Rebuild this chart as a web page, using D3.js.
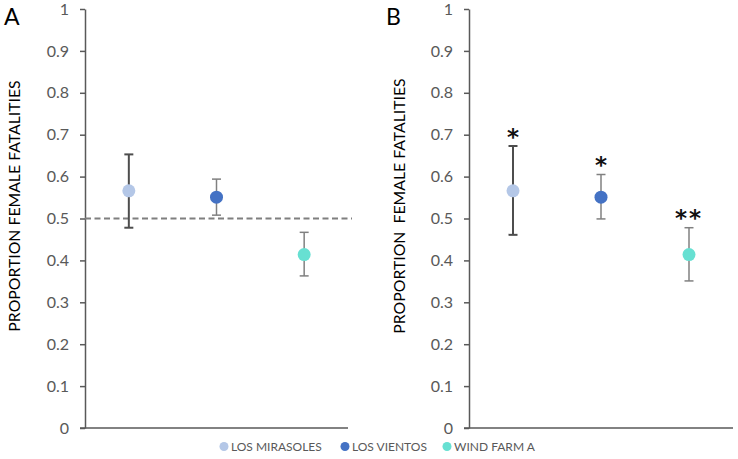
<!DOCTYPE html>
<html><head><meta charset="utf-8">
<script src="https://cdn.jsdelivr.net/npm/d3@7"></script>
<style>body{margin:0;background:#fff}svg{display:block}</style>
</head><body><svg id="c" width="738" height="459"></svg>
<script>
const categories = ["LOS MIRASOLES", "LOS VIENTOS", "WIND FARM A"];
const colors = ["#b4c7e7", "#4472c4", "#67e0d2"];
const valuesA = [0.566, 0.551, 0.414];
const upperA = [0.653, 0.594, 0.467];
const lowerA = [0.478, 0.508, 0.363];
const valuesB = [0.566, 0.551, 0.414];
const upperB = [0.673, 0.605, 0.478];
const lowerB = [0.461, 0.499, 0.351];
const starsB = ["*", "*", "**"];
const yTicks = [0, 0.1, 0.2, 0.3, 0.4, 0.5, 0.6, 0.7, 0.8, 0.9, 1];
const refLine = 0.5;

const svg = d3.select("#c");
const font = "Lato, 'Open Sans', sans-serif";
const y = d3.scaleLinear().domain([0, 1]).range([428, 9]);

function panel(opts) {
  const x = d3.scaleBand().domain(categories).range([opts.x0, opts.x1]);
  const g = svg.append("g");
  const ax = g.append("g").attr("transform", `translate(${opts.x0},0)`)
    .call(d3.axisLeft(y).tickValues(yTicks).tickSize(5).tickSizeOuter(0)
      .tickFormat(d => d === 0 || d === 1 ? d3.format("d")(d) : d3.format(".1f")(d)));
  ax.select(".domain").attr("stroke", "#595959").attr("stroke-width", 1.5);
  ax.selectAll(".tick line").attr("stroke", "#595959").attr("stroke-width", 1.5);
  ax.selectAll(".tick text").attr("fill", "#595959").style("font-size", "16px")
    .style("font-family", font).attr("x", -16);
  g.append("line").attr("x1", opts.x0 - 5).attr("x2", opts.x1).attr("y1", y(0)).attr("y2", y(0))
    .attr("stroke", "#595959").attr("stroke-width", 1.5);
  if (opts.ref) {
    g.append("line").attr("x1", opts.x0).attr("x2", opts.x1 + 4)
      .attr("y1", y(refLine)).attr("y2", y(refLine))
      .attr("stroke", "#7f7f7f").attr("stroke-width", 2).attr("stroke-dasharray", "6,3.5");
  }
  categories.forEach((c, i) => {
    const cx = x(c) + x.bandwidth() / 2;
    const ec = i === 0 ? "#4d4d4d" : "#808080";
    const ew = i === 0 ? 2 : 1.5;
    g.append("line").attr("x1", cx).attr("x2", cx).attr("y1", y(opts.up[i])).attr("y2", y(opts.lo[i]))
      .attr("stroke", ec).attr("stroke-width", ew);
    [opts.up[i], opts.lo[i]].forEach(v => g.append("line").attr("x1", cx - 4.5).attr("x2", cx + 4.5)
      .attr("y1", y(v)).attr("y2", y(v)).attr("stroke", ec).attr("stroke-width", ew));
    g.append("circle").attr("cx", cx).attr("cy", y(opts.val[i])).attr("r", 6.5).attr("fill", colors[i]);
    if (opts.stars) {
      g.append("text").attr("x", cx).attr("text-anchor", "middle")
        .style("font-family", "'DejaVu Sans', sans-serif").style("font-size", "23px")
        .style("font-weight", "bold")
        .attr("fill", "#111").attr("letter-spacing", opts.stars[i].length > 1 ? "2px" : "0")
        .text(opts.stars[i]).attr("dy", "0.55em").attr("y", y(opts.up[i]) - 14);
    }
  });
  g.append("text").attr("transform", `translate(${opts.tx},206) rotate(-90)`)
    .attr("text-anchor", "middle").style("font-family", font).style("font-size", "15.8px")
    .attr("fill", "#000").attr("xml:space", "preserve")
    .style("white-space", "pre").text(opts.title);
  g.append("text").attr("x", opts.lx).attr("y", 25).style("font-family", font)
    .style("font-size", "23px").attr("fill", "#000").text(opts.label);
}

panel({x0: 85, x1: 348, val: valuesA, up: upperA, lo: lowerA, ref: true, tx: 20, lx: 4, label: "A",
  title: "PROPORTION FEMALE FATALITIES"});
panel({x0: 469, x1: 733, val: valuesB, up: upperB, lo: lowerB, stars: starsB, tx: 405, lx: 386, label: "B",
  title: "PROPORTION  FEMALE FATALITIES"});

// legend
const legX = [224, 345, 447];
const leg = svg.append("g");
categories.forEach((c, i) => {
  leg.append("circle").attr("cx", legX[i]).attr("cy", 446.5).attr("r", 4.5).attr("fill", colors[i]);
  leg.append("text").attr("x", legX[i] + 7).attr("y", 451).style("font-family", font)
    .style("font-size", "12px").attr("fill", "#595959").text(c);
});
</script></body></html>
